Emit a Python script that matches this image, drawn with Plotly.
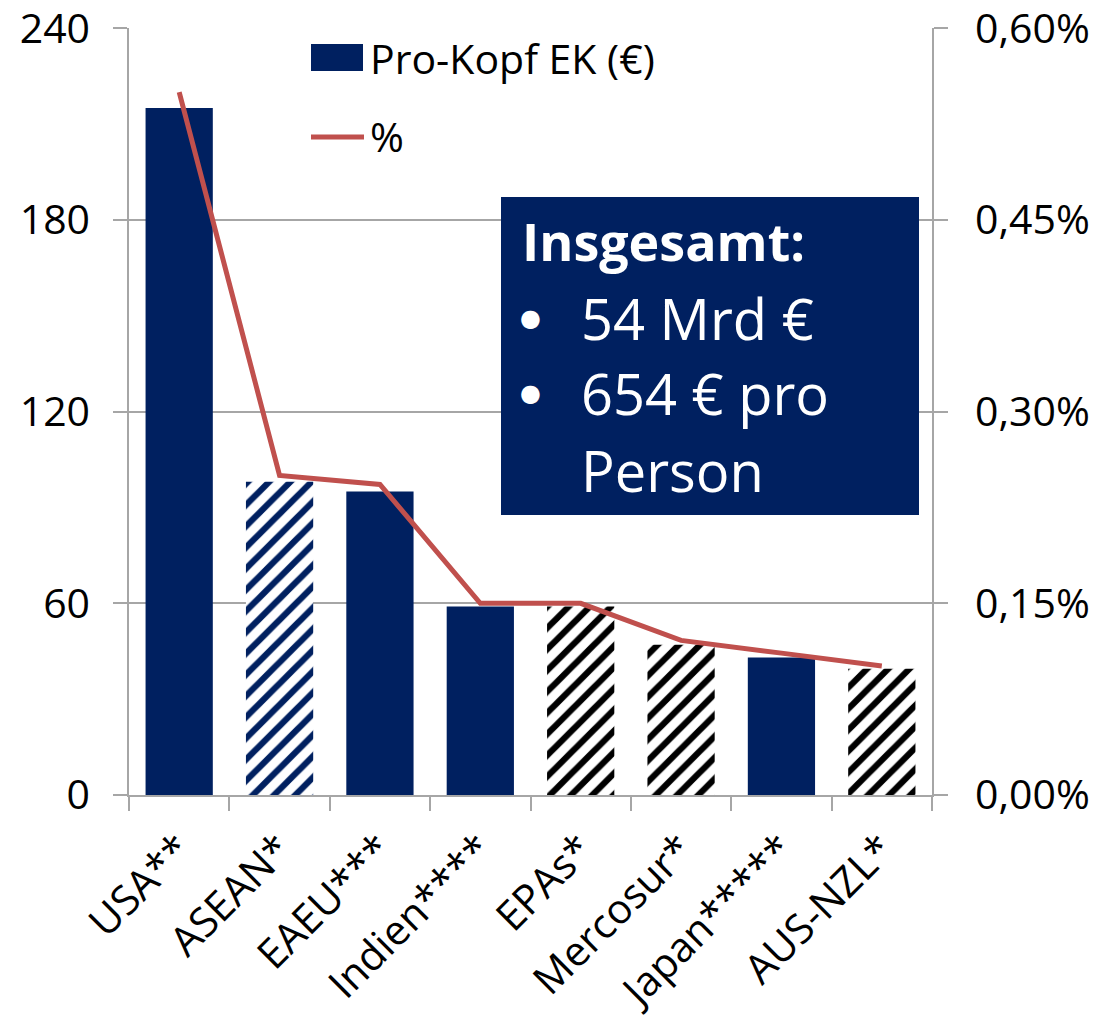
import plotly.graph_objects as go

# Pro-Kopf-Einkommenseffekte nach Abkommen
categories = ["USA**", "ASEAN*", "EAEU***", "Indien****", "EPAs*", "Mercosur*", "Japan*****", "AUS-NZL*"]
per_capita_eur = [215, 98, 95, 59, 59, 47, 43, 39.5]
share_pct = [0.0055, 0.0025, 0.00243, 0.0015, 0.0015, 0.00121, 0.00111, 0.00101]
# bar fill style per agreement: solid, navy hatch or black hatch
bar_style = ["solid", "navy_hatch", "solid", "solid", "black_hatch", "black_hatch", "solid", "black_hatch"]

left_ticks = [0, 60, 120, 180, 240]
right_ticks = [0, 0.0015, 0.003, 0.0045, 0.006]

NAVY = "#002060"
RED = "#C0504D"
GRID = "#A6A6A6"
FONT = "Open Sans"

W, H = 1101, 1019
L, R, T, B = 129, 932, 28, 795


def px(x):
    return (x - L) / (R - L)


def py(y):
    return (B - y) / (B - T)


def subset(style):
    xs = [c for c, s in zip(categories, bar_style) if s == style]
    ys = [v for v, s in zip(per_capita_eur, bar_style) if s == style]
    return xs, ys


fig = go.Figure()

styles = {
    "solid": dict(color=NAVY, line=dict(width=0)),
    "navy_hatch": dict(color="white", line=dict(width=0),
                       pattern=dict(shape="/", fgcolor=NAVY, bgcolor="white",
                                    fgopacity=1, size=15, solidity=0.42)),
    "black_hatch": dict(color="white", line=dict(width=0),
                        pattern=dict(shape="/", fgcolor="#000000", bgcolor="white",
                                     fgopacity=1, size=15, solidity=0.42)),
}
for style, marker in styles.items():
    xs, ys = subset(style)
    fig.add_trace(go.Bar(x=xs, y=ys, name="Pro-Kopf EK (€)", marker=marker,
                         showlegend=False))

fig.add_trace(go.Scatter(
    x=categories,
    y=share_pct,
    name="%",
    mode="lines",
    line=dict(color=RED, width=5),
    yaxis="y2",
    showlegend=False,
))

axis_common = dict(
    showline=True,
    linecolor=GRID,
    linewidth=1.5,
    ticks="outside",
    tickcolor=GRID,
    tickwidth=1.5,
    ticklen=14,
    tickfont=dict(family=FONT, size=41, color="black"),
    automargin=False,
    ticklabeloverflow="allow",
)

fig.update_layout(
    width=W,
    height=H,
    margin=dict(l=L, r=W - R, t=T, b=H - B, autoexpand=False),
    paper_bgcolor="white",
    plot_bgcolor="white",
    separators=",.",
    barmode="overlay",
    bargap=0.33,
    font=dict(family=FONT, color="black"),
    xaxis=dict(
        **axis_common,
        categoryorder="array",
        categoryarray=categories,
        tickson="boundaries",
        tickangle=-45,
        showgrid=False,
        ticklabelstandoff=12,
    ),
    yaxis=dict(
        **axis_common,
        range=[0, 240.05],
        tickvals=left_ticks,
        showgrid=True,
        gridcolor=GRID,
        gridwidth=1.5,
        zeroline=False,
        ticklabelstandoff=15,
    ),
    yaxis2=dict(
        **axis_common,
        overlaying="y",
        side="right",
        range=[0, 0.0060013],
        tickvals=right_ticks,
        tickformat=".2%",
        showgrid=False,
        zeroline=False,
        ticklabelstandoff=19,
    ),
)

shapes = [
    # legend keys
    dict(type="rect", xref="paper", yref="paper",
         x0=px(311), x1=px(363), y0=py(71), y1=py(44),
         fillcolor=NAVY, line=dict(width=0)),
    dict(type="line", xref="paper", yref="paper",
         x0=px(311), x1=px(364), y0=py(137), y1=py(137),
         line=dict(color=RED, width=5)),
    # summary box
    dict(type="rect", xref="paper", yref="paper", layer="above",
         x0=px(501), x1=px(919), y0=py(515), y1=py(197),
         fillcolor=NAVY, line=dict(width=0)),
]

annotations = [
    dict(text="Pro-Kopf EK (€)", x=px(368), y=py(58),
         font=dict(size=41, color="black", family=FONT)),
    dict(text="%", x=px(368), y=py(136),
         font=dict(size=41, color="black", family=FONT)),
    dict(text="<b>Insgesamt:</b>", x=px(520), y=py(240),
         font=dict(size=52, color="white", family=FONT)),
    dict(text="●", x=px(518), y=py(318),
         font=dict(size=24, color="white", family="DejaVu Sans")),
    dict(text="54 Mrd €", x=px(579), y=py(318),
         font=dict(size=56, color="white", family=FONT)),
    dict(text="●", x=px(518), y=py(393),
         font=dict(size=24, color="white", family="DejaVu Sans")),
    dict(text="654 € pro", x=px(579), y=py(393),
         font=dict(size=56, color="white", family=FONT)),
    dict(text="Person", x=px(579), y=py(470),
         font=dict(size=56, color="white", family=FONT)),
]
for a in annotations:
    a.update(xref="paper", yref="paper", xanchor="left", yanchor="middle",
             showarrow=False)

fig.update_layout(shapes=shapes, annotations=annotations)

fig.write_html("out.html")
